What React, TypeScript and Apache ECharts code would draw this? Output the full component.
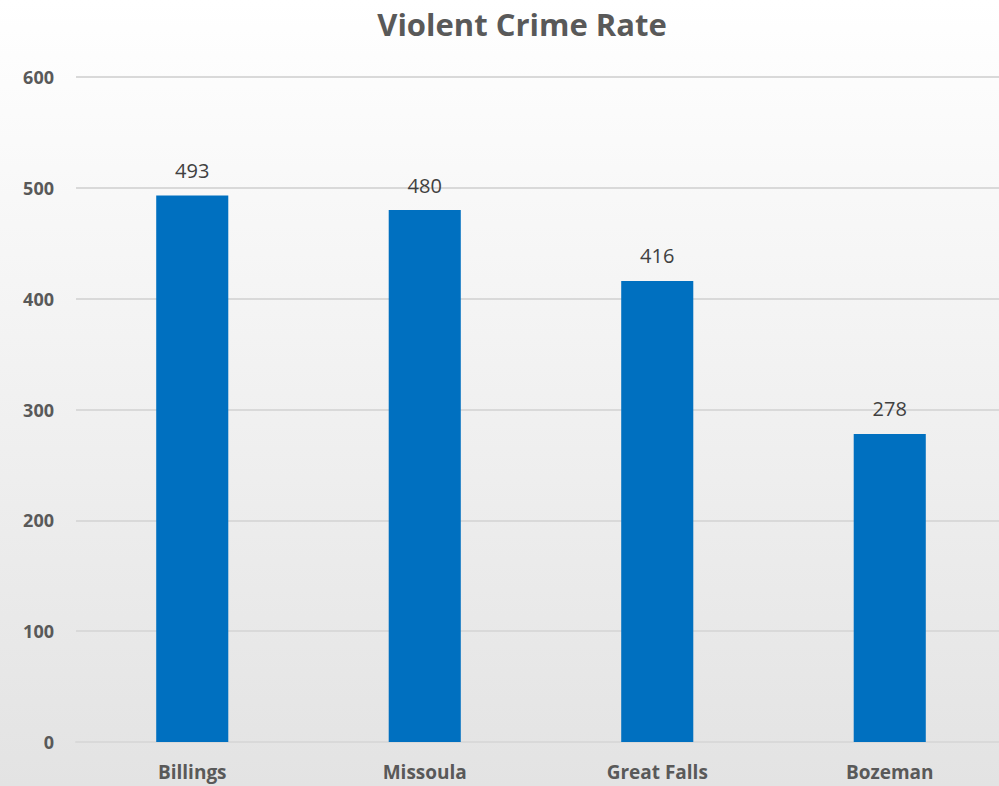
import React, { useEffect, useRef } from "react";
import * as echarts from "echarts";

const categories = ["Billings", "Missoula", "Great Falls", "Bozeman"];
const values = [493, 480, 416, 278];
const titleText = "Violent Crime Rate";

export default function App() {
  const ref = useRef<HTMLDivElement>(null);
  useEffect(() => {
    const chart = echarts.init(ref.current!, null, { renderer: "svg" });
    chart.setOption({
      animation: false,
      backgroundColor: new echarts.graphic.LinearGradient(0, 0, 0, 1, [
        { offset: 0, color: "#ffffff" },
        { offset: 1, color: "#e3e3e3" },
      ]),
      title: {
        text: titleText,
        left: 517,
        textAlign: "center",
        top: 3,
        textStyle: { fontFamily: "Open Sans", fontWeight: "bold", fontSize: 31, color: "#595959" },
      },
      grid: { left: 76, right: 0, top: 77, bottom: 44 },
      xAxis: {
        type: "category",
        data: categories,
        axisLine: { lineStyle: { color: "#d9d9d9", width: 2 } },
        axisTick: { show: false },
        axisLabel: { fontFamily: "Open Sans", fontWeight: "bold", fontSize: 19, color: "#595959", margin: 20 },
      },
      yAxis: {
        type: "value",
        min: 0,
        max: 600,
        interval: 100,
        axisLine: { show: false },
        axisTick: { show: false },
        splitLine: { lineStyle: { color: "#d9d9d9", width: 2 } },
        axisLabel: { fontFamily: "Open Sans", fontWeight: "bold", fontSize: 18, color: "#595959", margin: 22 },
      },
      series: [
        {
          type: "bar",
          data: values,
          barWidth: "31%",
          itemStyle: { color: "#0070c0" },
          label: {
            show: true,
            position: "top",
            distance: 15,
            fontFamily: "Open Sans",
            fontSize: 20,
            color: "#404040",
          },
        },
      ],
    });
    return () => chart.dispose();
  }, []);
  return (
    <div style={{ position: "fixed", left: 0, top: 0, width: 999, height: 786, overflow: "hidden" }}>
      <div ref={ref} style={{ width: 1006, height: 786 }} />
    </div>
  );
}
